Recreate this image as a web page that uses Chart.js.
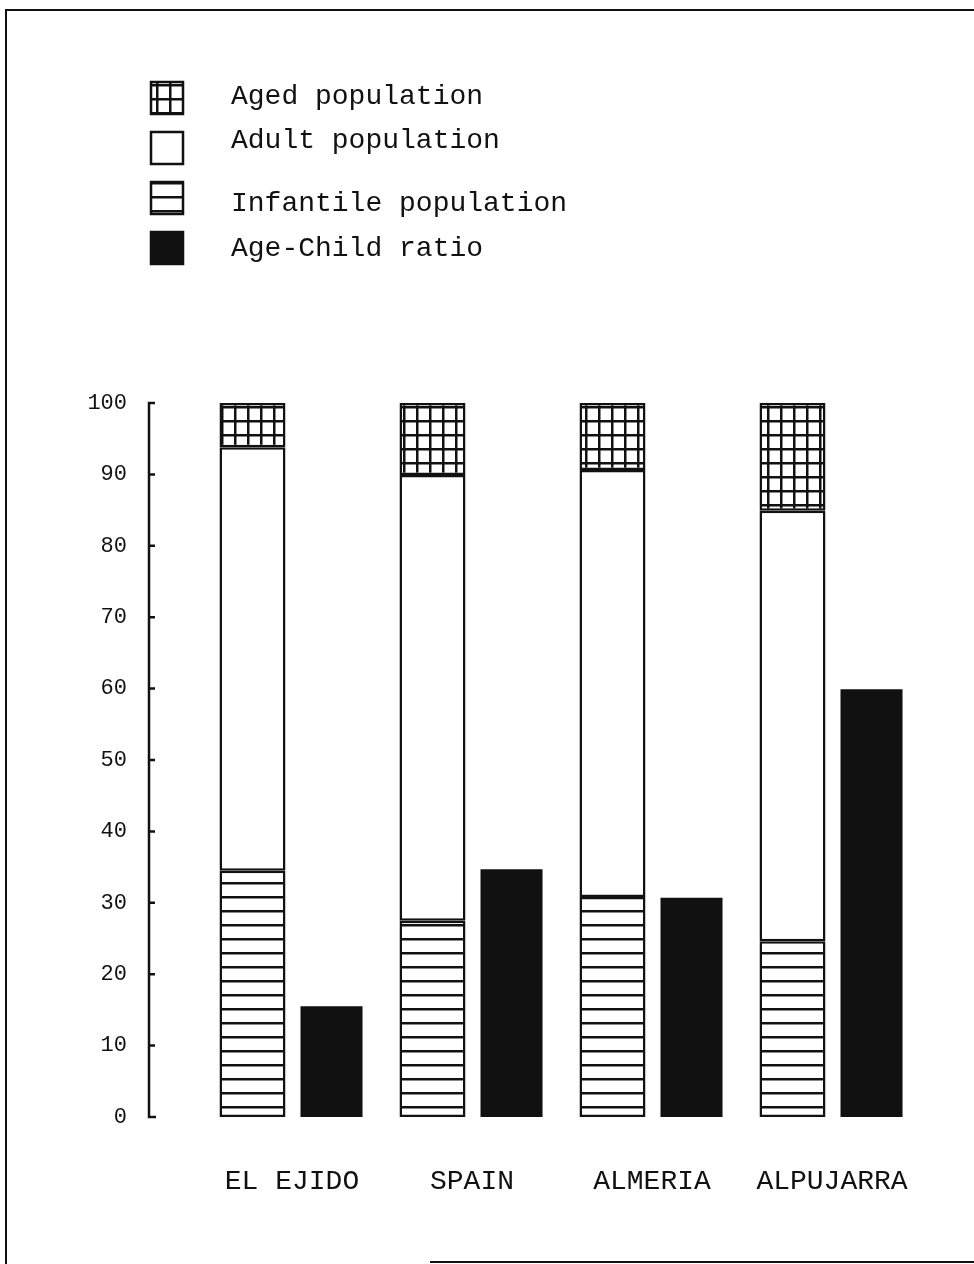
<!DOCTYPE html>
<html>
<head>
<meta charset="utf-8">
<script src="https://cdn.jsdelivr.net/npm/chart.js@4/dist/chart.umd.min.js"></script>
<style>
  html, body { margin: 0; padding: 0; background: #fff; }
  #wrap { width: 974px; height: 1264px; position: relative; }
</style>
</head>
<body>
<div id="wrap"><canvas id="chart"></canvas></div>
<script>
// values (percent)
const regions = ['EL EJIDO', 'SPAIN', 'ALMERIA', 'ALPUJARRA'];
const infantile = [34.5, 27.5, 30.8, 24.6];
const adult = [59.3, 62.4, 59.8, 60.3];
const aged = [6.2, 10.1, 9.4, 15.1];
const ageChildRatio = [15.5, 34.7, 30.7, 59.9];
const yTicks = [0, 10, 20, 30, 40, 50, 60, 70, 80, 90, 100];

const FONT = '"Liberation Mono", "DejaVu Sans Mono", monospace';
const INK = '#111';

function makePattern(w, h, draw) {
  const c = document.createElement('canvas');
  c.width = w; c.height = h;
  const g = c.getContext('2d');
  g.fillStyle = '#fff';
  g.fillRect(0, 0, w, h);
  g.fillStyle = INK;
  draw(g);
  return document.createElement('canvas').getContext('2d').createPattern(c, 'repeat');
}
const gridPattern = makePattern(13, 14, g => { g.fillRect(0, 0, 13, 2.5); g.fillRect(0, 0, 2.5, 14); });
const linePattern = makePattern(10, 14, g => { g.fillRect(0, 0, 10, 2.5); });

// legend: dataset index per row, and the typed text baselines (a little uneven on the original)
const legendOrder = [2, 1, 0, 3];
const legendTextY = [97, 141, 204, 249];

const framePlugin = {
  id: 'frame',
  beforeDraw(chart) {
    const ctx = chart.ctx;
    ctx.save();
    ctx.fillStyle = '#fff';
    ctx.fillRect(0, 0, chart.width, chart.height);
    ctx.restore();
  },
  afterDraw(chart) {
    const ctx = chart.ctx;
    const y = chart.scales.y;
    ctx.save();
    ctx.strokeStyle = INK;
    ctx.lineWidth = 2;
    // page frame
    ctx.beginPath();
    ctx.moveTo(6, 1264);
    ctx.lineTo(6, 10);
    ctx.lineTo(974, 10);
    ctx.moveTo(430, 1262);
    ctx.lineTo(974, 1262);
    ctx.stroke();

    // hand-drawn y axis to the left of the bars
    const ax = 149;
    ctx.lineWidth = 2.5;
    ctx.beginPath();
    ctx.moveTo(ax + 6, y.getPixelForValue(100));
    ctx.lineTo(ax, y.getPixelForValue(100));
    ctx.lineTo(ax, y.getPixelForValue(0));
    ctx.lineTo(ax + 7, y.getPixelForValue(0));
    yTicks.forEach(v => {
      const py = y.getPixelForValue(v);
      ctx.moveTo(ax, py);
      ctx.lineTo(ax + 6, py);
    });
    ctx.stroke();

    // legend
    legendOrder.forEach((di, i) => {
      const ds = chart.data.datasets[di];
      const bx = 150, by = 81 + i * 50, bw = 34, bh = 34;
      ctx.fillStyle = ds.backgroundColor;
      ctx.fillRect(bx, by, bw, bh);
      ctx.lineWidth = 2.5;
      ctx.strokeStyle = INK;
      ctx.strokeRect(bx + 1, by + 1, bw - 2, bh - 2);
      ctx.fillStyle = INK;
      ctx.font = '28px ' + FONT;
      ctx.textBaseline = 'middle';
      ctx.textAlign = 'left';
      ctx.fillText(ds.label, 231, legendTextY[i]);
    });
    ctx.restore();
  }
};

const stackedStyle = {
  borderColor: INK,
  borderWidth: 2.5,
  borderSkipped: false,
  barPercentage: 0.835,
  stack: 'population'
};

new Chart(document.getElementById('chart'), {
  type: 'bar',
  data: {
    labels: regions,
    datasets: [
      Object.assign({ label: 'Infantile population', data: infantile, backgroundColor: linePattern }, stackedStyle),
      Object.assign({ label: 'Adult population', data: adult, backgroundColor: '#ffffff' }, stackedStyle),
      Object.assign({ label: 'Aged population', data: aged, backgroundColor: gridPattern }, stackedStyle),
      { label: 'Age-Child ratio', data: ageChildRatio, backgroundColor: INK, borderWidth: 0,
        barPercentage: 0.785, stack: 'ratio' }
    ]
  },
  options: {
    responsive: true,
    maintainAspectRatio: false,
    animation: false,
    devicePixelRatio: 1,
    layout: { padding: { top: 403, right: 52, left: 0, bottom: 0 } },
    plugins: { legend: { display: false }, tooltip: { enabled: false } },
    datasets: { bar: { categoryPercentage: 0.878 } },
    scales: {
      x: {
        stacked: true,
        grid: { display: false, drawTicks: false },
        border: { display: false },
        ticks: { color: INK, font: { family: FONT, size: 28 }, padding: 48 },
        afterFit(scale) { scale.height = 147; }
      },
      y: {
        stacked: true,
        min: 0,
        max: 100,
        afterBuildTicks(scale) { scale.ticks = yTicks.map(v => ({ value: v })); },
        grid: { display: false, drawTicks: false },
        border: { display: false },
        ticks: { color: INK, font: { family: FONT, size: 22 }, padding: 75 },
        afterFit(scale) { scale.width = 202; }
      }
    }
  },
  plugins: [framePlugin]
});
</script>
</body>
</html>
